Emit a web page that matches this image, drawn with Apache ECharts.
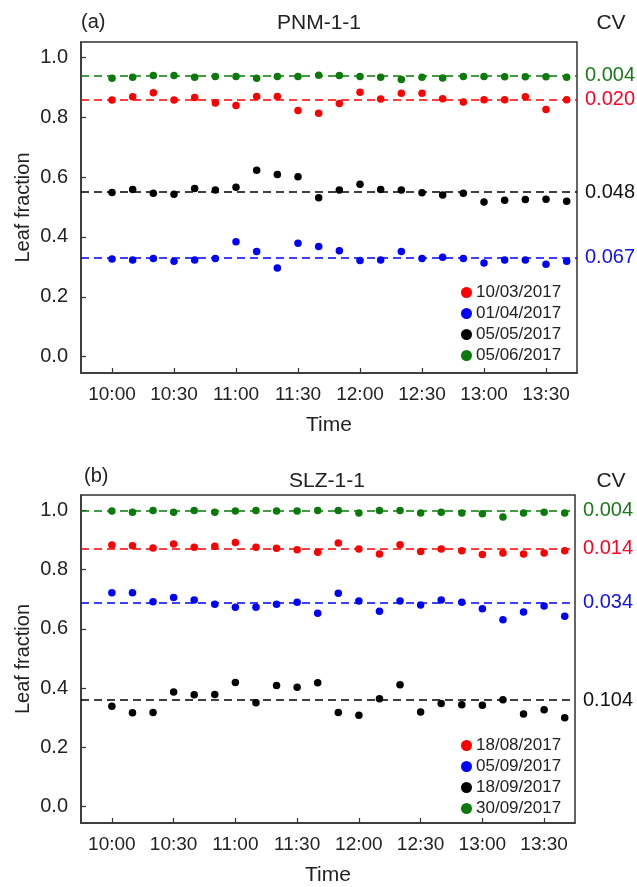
<!DOCTYPE html>
<html>
<head>
<meta charset="utf-8">
<script src="https://cdn.jsdelivr.net/npm/echarts@6/dist/echarts.min.js"></script>
<style>html,body{margin:0;padding:0;background:#fff}#c{width:637px;height:887px}</style>
</head>
<body>
<div id="c"></div>
<script>
// ---- data ----
var times = ['10:00','10:10','10:20','10:30','10:40','10:50','11:00','11:10','11:20','11:30','11:40','11:50',
             '12:00','12:10','12:20','12:30','12:40','12:50','13:00','13:10','13:20','13:30','13:40'];
var tickLabels = ['10:00','10:30','11:00','11:30','12:00','12:30','13:00','13:30'];
var yTicks = [0, 0.2, 0.4, 0.6, 0.8, 1.0];

// panel (a) PNM-1-1
var aNames = ['10/03/2017','01/04/2017','05/05/2017','05/06/2017'];
var aRed   = [0.858,0.869,0.882,0.858,0.866,0.848,0.840,0.870,0.870,0.823,0.814,0.846,0.884,0.861,0.881,0.881,0.862,0.851,0.859,0.859,0.869,0.826,0.859];
var aBlue  = [0.326,0.323,0.328,0.319,0.323,0.328,0.384,0.351,0.296,0.379,0.368,0.354,0.321,0.323,0.351,0.328,0.332,0.328,0.313,0.323,0.323,0.309,0.319];
var aBlack = [0.549,0.559,0.546,0.543,0.562,0.557,0.566,0.623,0.609,0.601,0.531,0.557,0.576,0.559,0.557,0.548,0.540,0.546,0.517,0.523,0.525,0.526,0.519];
var aGreen = [0.931,0.934,0.940,0.940,0.934,0.937,0.937,0.931,0.937,0.937,0.941,0.940,0.937,0.934,0.927,0.934,0.932,0.937,0.937,0.936,0.936,0.936,0.934];
var aMeans = [0.859, 0.331, 0.553, 0.937];
var aCV    = ['0.020', '0.067', '0.048', '0.004'];

// panel (b) SLZ-1-1
var bNames = ['18/08/2017','05/09/2017','18/09/2017','30/09/2017'];
var bRed   = [0.883,0.881,0.873,0.887,0.876,0.879,0.892,0.876,0.872,0.867,0.859,0.890,0.870,0.853,0.884,0.861,0.870,0.864,0.851,0.856,0.853,0.856,0.864];
var bBlue  = [0.722,0.722,0.692,0.706,0.698,0.683,0.673,0.673,0.683,0.690,0.653,0.720,0.694,0.660,0.694,0.681,0.698,0.690,0.668,0.631,0.657,0.677,0.643];
var bBlack = [0.339,0.317,0.318,0.387,0.378,0.379,0.419,0.351,0.409,0.403,0.418,0.318,0.309,0.364,0.412,0.320,0.348,0.344,0.342,0.361,0.313,0.327,0.300];
var bGreen = [0.998,0.994,1.000,0.994,1.000,0.994,0.998,1.000,0.998,0.998,1.000,1.000,0.991,1.000,1.000,0.991,0.994,0.991,0.989,0.978,0.991,0.994,0.991];
var bMeans = [0.871, 0.687, 0.356, 0.998];
var bCV    = ['0.014', '0.034', '0.104', '0.004'];

var colors = ['#ff0000', '#0000ff', '#000000', '#0a7a0a'];
var cvColors = ['#ff0022', '#1010ee', '#111111', '#1a7a1a'];

// ---- helpers ----
var FONT = '"Liberation Sans", Arial, Helvetica, sans-serif';
function toMin(t){ var p = t.split(':'); return (+p[0] - 10) * 60 + (+p[1]); }
function fmtTime(v){ var h = 10 + Math.floor(v / 60), m = v % 60; return h + ':' + (m < 10 ? '0' + m : m); }
var tickMins = tickLabels.map(toMin);

function pts(arr){ return arr.map(function(v, i){ return [toMin(times[i]), v]; }); }

function makeSeries(names, arrays, means, cvs, idx){
  return arrays.map(function(arr, k){
    return {
      name: names[k], type: 'scatter', xAxisIndex: idx, yAxisIndex: idx,
      data: pts(arr), symbol: 'circle', symbolSize: 7.5,
      itemStyle: { color: colors[k], opacity: 1 },
      z: 3,
      markLine: {
        silent: true, symbol: 'none', animation: false,
        lineStyle: { color: colors[k], type: [8, 5], width: 1.6, opacity: 1 },
        label: { show: true, position: 'end', distance: 8, formatter: cvs[k],
                 color: cvColors[k], fontSize: 20, fontFamily: FONT },
        data: [{ yAxis: means[k] }]
      }
    };
  });
}

function xAxis(idx){
  return {
    type: 'value', gridIndex: idx, min: -15, max: 225,
    name: 'Time', nameLocation: 'middle', nameGap: 42, nameMoveOverlap: false,
    nameTextStyle: { fontSize: 21, color: '#222', fontFamily: FONT, verticalAlign: 'top' },
    axisLine: { show: true, onZero: false, lineStyle: { color: '#333', width: 1.5 } },
    axisTick: { show: true, inside: true, length: 5, customValues: tickMins, lineStyle: { color: '#333', width: 1.2 } },
    axisLabel: { customValues: tickMins, formatter: fmtTime, fontSize: 19, color: '#222', margin: 12, fontFamily: FONT },
    splitLine: { show: false }
  };
}
function yAxis(idx){
  return {
    type: 'value', gridIndex: idx, min: -0.055, max: 1.052,
    name: 'Leaf fraction', nameLocation: 'middle', nameGap: 48, nameRotate: 90, nameMoveOverlap: false,
    nameTextStyle: { fontSize: 20, color: '#222', fontFamily: FONT },
    axisLine: { show: true, onZero: false, lineStyle: { color: '#333', width: 1.5 } },
    axisTick: { show: true, inside: true, length: 5, customValues: yTicks, lineStyle: { color: '#333', width: 1.2 } },
    axisLabel: { customValues: yTicks, formatter: function(v){ return v.toFixed(1); }, fontSize: 20, color: '#222', margin: 13, fontFamily: FONT },
    splitLine: { show: false }
  };
}
function legend(names, top){
  return {
    data: names, orient: 'vertical', left: 456, top: top, itemGap: 4,
    itemWidth: 11, itemHeight: 11, icon: 'circle',
    textStyle: { fontSize: 17, color: '#222', fontFamily: FONT, padding: [0, 0, 0, -1] },
    selectedMode: false
  };
}
function txt(s, x, y, align, size){
  return { type: 'text', x: x, y: y, silent: true,
    style: { text: s, fontSize: size, fontFamily: FONT, fill: '#222',
             align: align, textAlign: align, verticalAlign: 'middle', textVerticalAlign: 'middle' } };
}

var chart = echarts.init(document.getElementById('c'), null, { renderer: 'canvas' });
chart.setOption({
  animation: false,
  backgroundColor: '#fff',
  grid: [
    { left: 81, top: 42, width: 496, height: 331, show: true, borderColor: '#333', borderWidth: 1.5, backgroundColor: 'transparent' },
    { left: 81, top: 495, width: 494, height: 333, show: true, borderColor: '#333', borderWidth: 1.5, backgroundColor: 'transparent' }
  ],
  xAxis: [xAxis(0), xAxis(1)],
  yAxis: [yAxis(0), yAxis(1)],
  legend: [legend(aNames, 279), legend(bNames, 732)],
  graphic: [
    txt('(a)', 81, 22, 'left', 20),
    txt('PNM-1-1', 319, 23, 'center', 21),
    txt('CV', 611, 23, 'center', 21),
    txt('(b)', 84, 476, 'left', 20),
    txt('SLZ-1-1', 327, 481, 'center', 21),
    txt('CV', 611, 481, 'center', 21)
  ],
  series: makeSeries(aNames, [aRed, aBlue, aBlack, aGreen], aMeans, aCV, 0)
    .concat(makeSeries(bNames, [bRed, bBlue, bBlack, bGreen], bMeans, bCV, 1))
});
</script>
</body>
</html>
